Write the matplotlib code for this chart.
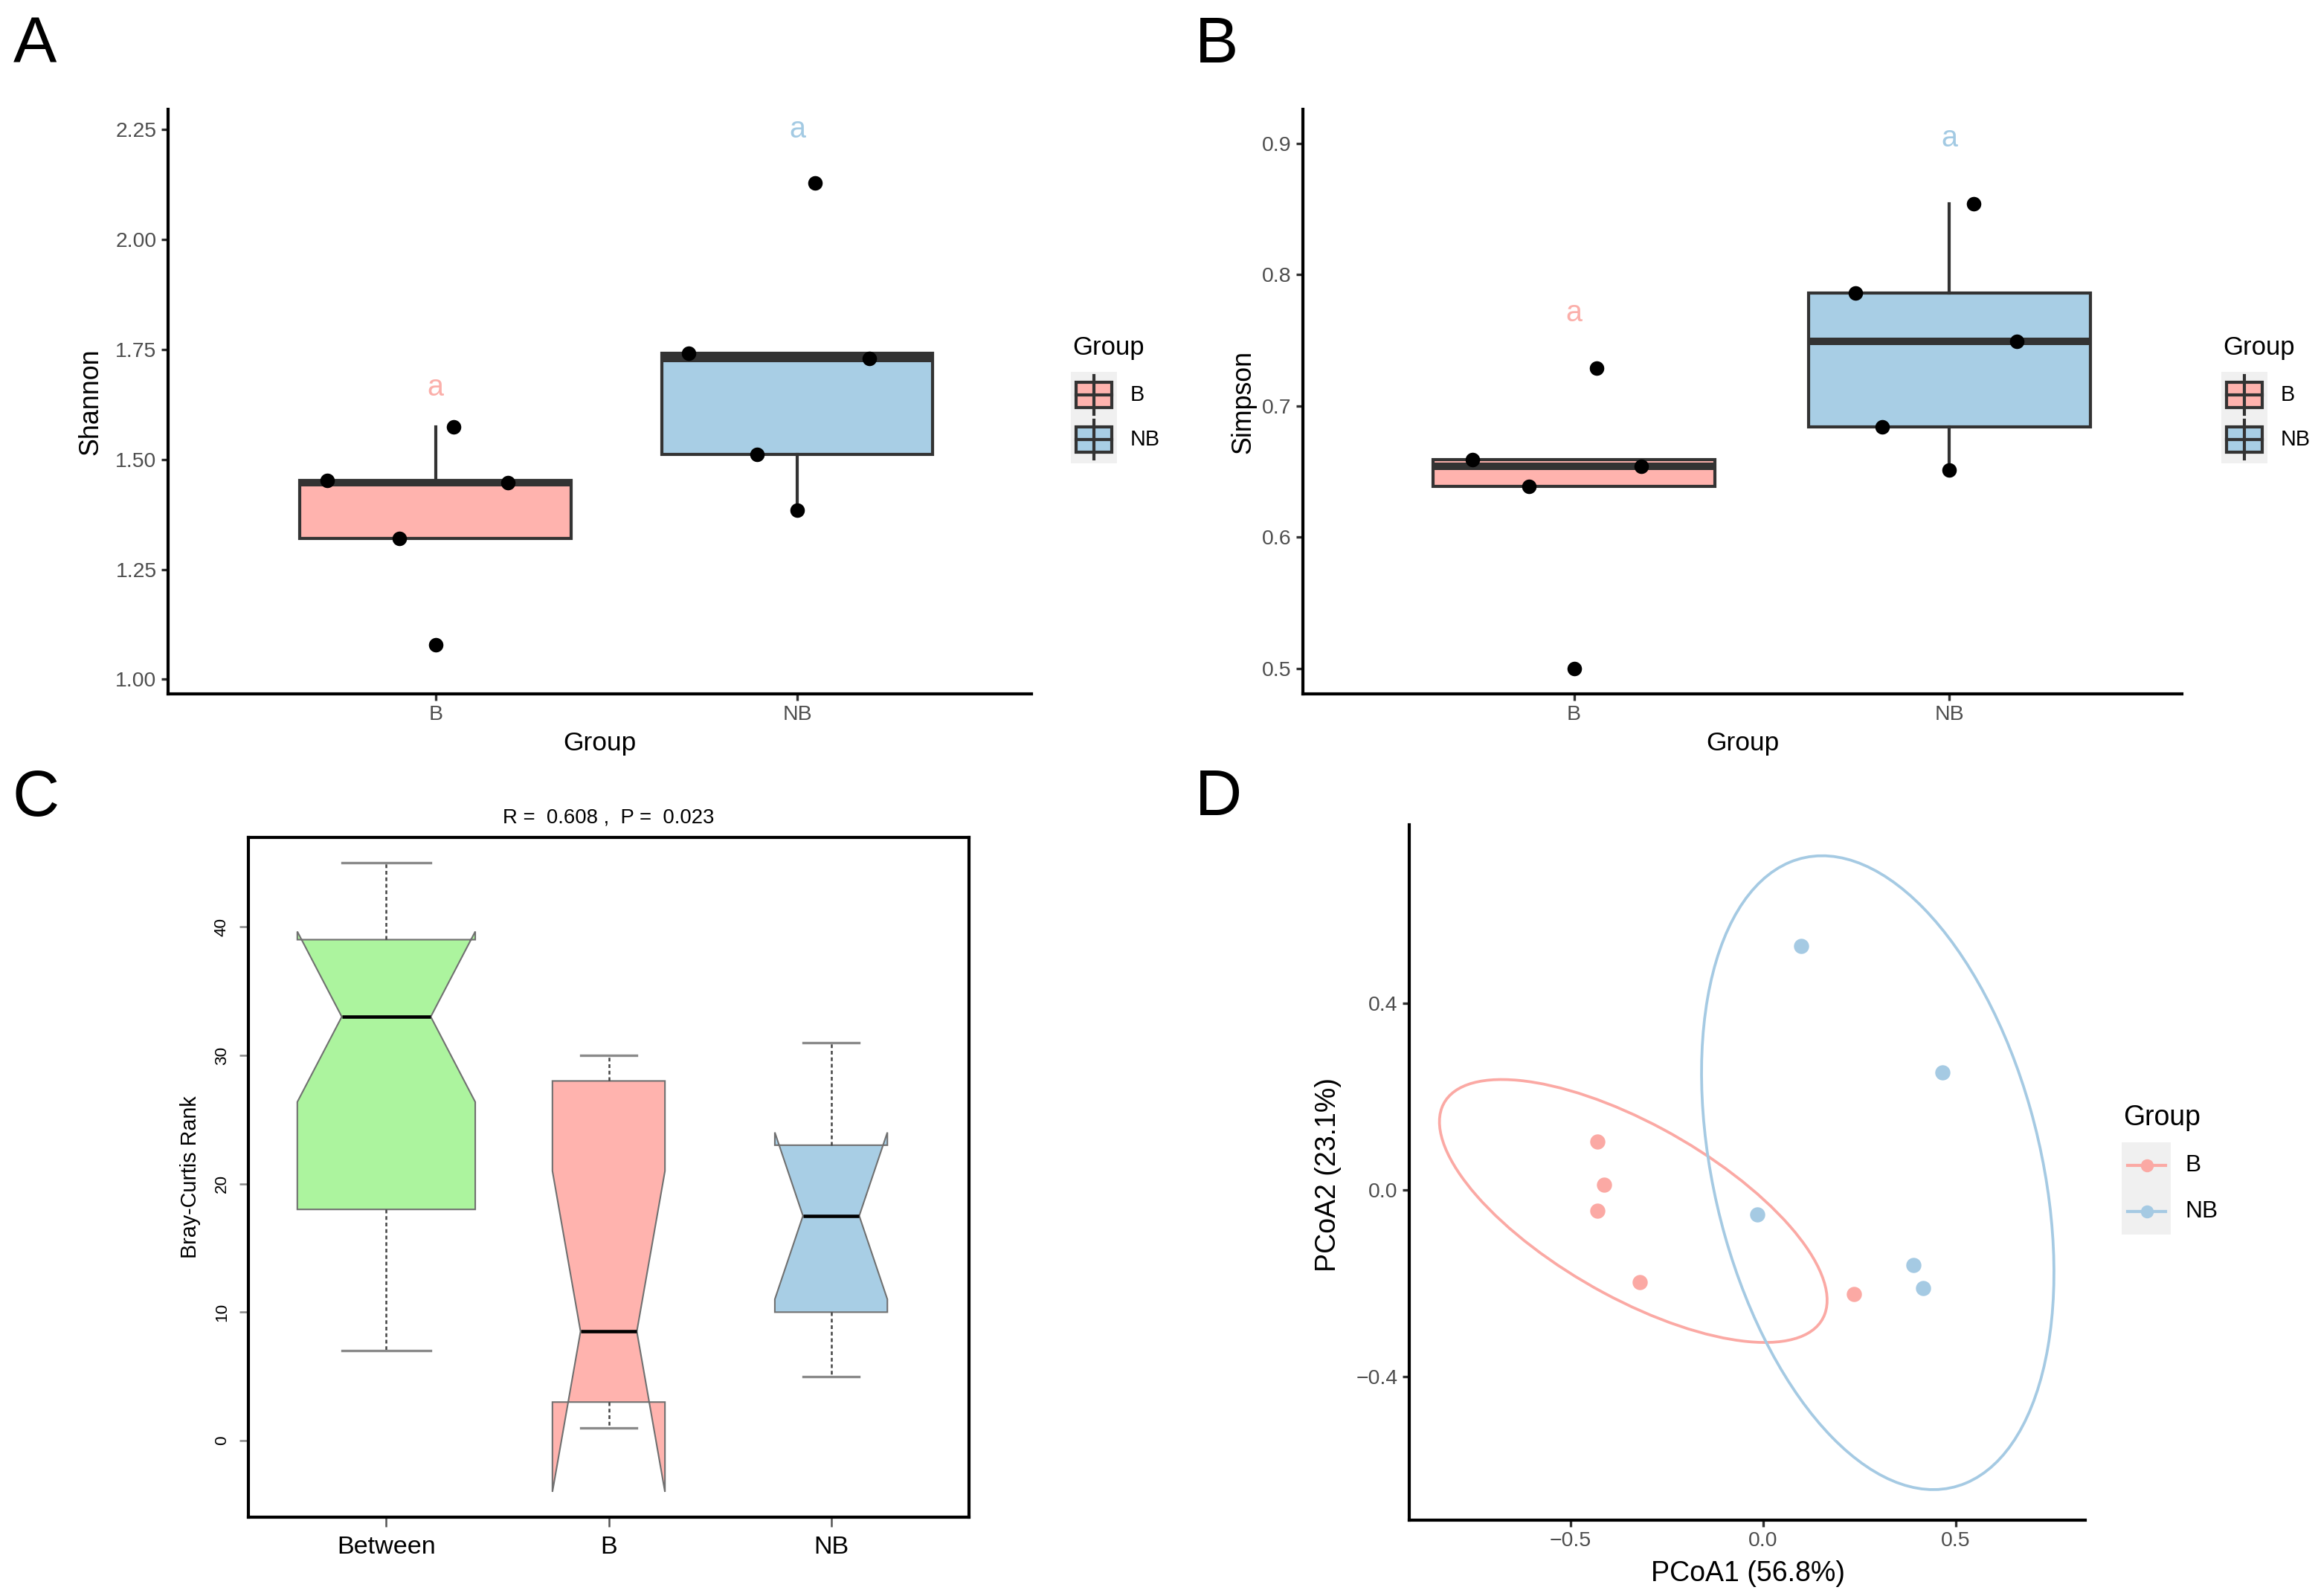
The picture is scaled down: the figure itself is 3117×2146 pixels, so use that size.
import numpy as np
import matplotlib
matplotlib.use('Agg')
import matplotlib.pyplot as plt
from matplotlib import cbook
from matplotlib.patches import Ellipse, Rectangle
from matplotlib.lines import Line2D

plt.rcParams['font.family'] = ['Liberation Sans', 'DejaVu Sans']

W, H, DPI = 3117, 2146, 300

# ---- data ------------------------------------------------------------------
groups = ['B', 'NB']

# panel A: Shannon index, one value per sample, with the jitter offset used
shannon = {
    'B': [1.453, 1.320, 1.078, 1.574, 1.448],
    'NB': [1.741, 1.512, 1.384, 2.128, 1.730],
}
shannon_jitter = {
    'B': [-0.30, -0.10, 0.0, 0.05, 0.20],
    'NB': [-0.30, -0.11, 0.0, 0.05, 0.20],
}
shannon_letter_y = {'B': 1.663, 'NB': 2.25}
shannon_ticks = [1.00, 1.25, 1.50, 1.75, 2.00, 2.25]

# panel B: Simpson index
simpson = {
    'B': [0.659, 0.639, 0.500, 0.729, 0.654],
    'NB': [0.786, 0.684, 0.651, 0.854, 0.749],
}
simpson_jitter = {
    'B': [-0.27, -0.12, 0.0, 0.06, 0.18],
    'NB': [-0.25, -0.18, 0.0, 0.065, 0.18],
}
simpson_letter_y = {'B': 0.771, 'NB': 0.904}
simpson_ticks = [0.5, 0.6, 0.7, 0.8, 0.9]

# panel C: ANOSIM Bray-Curtis rank boxplot summary
rank_groups = ['Between', 'B', 'NB']
rank_lo = [7, 1, 5]
rank_q1 = [18, 3, 10]
rank_med = [33, 8.5, 17.5]
rank_q3 = [39, 28, 23]
rank_hi = [45, 30, 31]
rank_n = [25, 10, 10]
anosim_r = 0.608
anosim_p = 0.023
rank_ticks = [0, 10, 20, 30, 40]

# panel D: PCoA coordinates
pcoa_x = {
    'B': [-0.431, -0.412, -0.431, -0.321, 0.237],
    'NB': [0.100, 0.467, -0.015, 0.390, 0.415],
}
pcoa_y = {
    'B': [0.103, 0.012, -0.045, -0.197, -0.223],
    'NB': [0.522, 0.252, -0.052, -0.161, -0.210],
}
# confidence ellipses: centre, half extent in x / y, and xy shape term
ell_center = {'B': (-0.337, -0.045), 'NB': (0.298, 0.037)}
ell_half = {'B': (0.5035, 0.2815), 'NB': (0.4577, 0.6786)}
ell_xy = {'B': -0.0962, 'NB': -0.0979}
pcoa1_pct = 56.8
pcoa2_pct = 23.1

# ---- styles ----------------------------------------------------------------
box_fill = {'B': '#FFB3AE', 'NB': '#A8CEE5'}
letter_col = {'B': '#FBAFAA', 'NB': '#A3CAE3'}
point_col = {'B': '#FBA9A4', 'NB': '#A5CAE3'}
rank_fill = ['#ACF49E', '#FFB3AE', '#A8CEE5']
legend_bg = '#F0F0F0'


def px_rect(l, t, r, b):
    return [l / W, 1 - b / H, (r - l) / W, (b - t) / H]


def gg_axes(ax):
    for s in ['top', 'right']:
        ax.spines[s].set_visible(False)
    for s in ['left', 'bottom']:
        ax.spines[s].set_linewidth(1.0)
        ax.spines[s].set_color('black')
    ax.tick_params(length=2.2, width=0.8, color='#333333', labelcolor='#4D4D4D',
                   labelsize=6.8, pad=1.5)


def alpha_panel(ax, values, jitter, letter_y, yticks, fmt, xlim, ylim):
    stats = [cbook.boxplot_stats(values[g], whis=1.5)[0] for g in groups]
    bp = ax.bxp(stats, positions=[1, 2], widths=0.75, patch_artist=True,
                showfliers=False, showcaps=False,
                boxprops=dict(edgecolor='#333333', linewidth=1.0),
                medianprops=dict(color='#333333', linewidth=2.4),
                whiskerprops=dict(color='#333333', linewidth=1.0))
    for patch, g in zip(bp['boxes'], groups):
        patch.set_facecolor(box_fill[g])
    for i, g in enumerate(groups):
        xs = i + 1 + np.array(jitter[g])
        ax.scatter(xs, values[g], s=22, color='black', linewidths=0, zorder=4)
        ax.text(i + 1, letter_y[g], 'a', color=letter_col[g], ha='center',
                va='center', fontsize=9.5)
    ax.set_xlim(*xlim)
    ax.set_ylim(*ylim)
    ax.set_xticks([1, 2], groups)
    ax.set_yticks(yticks, [fmt.format(v) for v in yticks])
    gg_axes(ax)


fig = plt.figure(figsize=(W / DPI, H / DPI), dpi=DPI)

# ---- A ---------------------------------------------------------------------
ax_a = fig.add_axes(px_rect(226, 147, 1387, 933))
alpha_panel(ax_a, shannon, shannon_jitter, shannon_letter_y, shannon_ticks,
            '{:.2f}', (0.26, 2.648), (0.967, 2.296))

# ---- B ---------------------------------------------------------------------
ax_b = fig.add_axes(px_rect(1752, 147, 2934, 933))
alpha_panel(ax_b, simpson, simpson_jitter, simpson_letter_y, simpson_ticks,
            '{:.1f}', (0.278, 2.619), (0.4807, 0.926))

# ---- C ---------------------------------------------------------------------
ax_c = fig.add_axes(px_rect(334, 1126, 1303, 2040))
rank_stats = []
for i, name in enumerate(rank_groups):
    notch = 1.58 * (rank_q3[i] - rank_q1[i]) / np.sqrt(rank_n[i])
    rank_stats.append(dict(med=rank_med[i], q1=rank_q1[i], q3=rank_q3[i],
                           whislo=rank_lo[i], whishi=rank_hi[i],
                           cilo=rank_med[i] - notch, cihi=rank_med[i] + notch,
                           fliers=[], label=name))
# varwidth: box width proportional to sqrt(n)
rank_widths = 0.8 * np.sqrt(rank_n) / np.sqrt(max(rank_n))
bp = ax_c.bxp(rank_stats, positions=[1, 2, 3], widths=rank_widths, shownotches=True,
              patch_artist=True, showfliers=False,
              boxprops=dict(edgecolor='#707070', linewidth=0.5),
              medianprops=dict(color='black', linewidth=1.1),
              whiskerprops=dict(color='#444444', linewidth=0.6, linestyle=(0, (2.0, 1.5))),
              capprops=dict(color='#8A8A8A', linewidth=0.8))
for patch, c in zip(bp['boxes'], rank_fill):
    patch.set_facecolor(c)
ax_c.set_xlim(0.38, 3.62)
ax_c.set_ylim(-5.96, 46.96)
ax_c.set_xticks([1, 2, 3], rank_groups)
ax_c.set_yticks(rank_ticks, [str(v) for v in rank_ticks], rotation=90, va='center')
ax_c.tick_params(axis='x', length=3, width=0.6, color='#555555', labelsize=8.2, pad=3)
ax_c.tick_params(axis='y', length=3, width=0.6, color='#888888', labelsize=5.4, pad=3)
for s in ax_c.spines.values():
    s.set_linewidth(1.0)
    s.set_color('black')

# ---- D ---------------------------------------------------------------------
ax_d = fig.add_axes(px_rect(1895, 1109, 2804, 2044))
for g in groups:
    hx, hy = ell_half[g]
    shape = np.array([[hx ** 2, ell_xy[g]], [ell_xy[g], hy ** 2]])
    vals, vecs = np.linalg.eigh(shape)
    angle = np.degrees(np.arctan2(vecs[1, 1], vecs[0, 1]))
    ax_d.add_patch(Ellipse(ell_center[g], 2 * np.sqrt(vals[1]), 2 * np.sqrt(vals[0]),
                           angle=angle, fill=False, edgecolor=point_col[g], linewidth=0.9))
    ax_d.scatter(pcoa_x[g], pcoa_y[g], s=24, color=point_col[g], linewidths=0, zorder=3)
ax_d.set_xlim(-0.919, 0.837)
ax_d.set_ylim(-0.707, 0.782)
ax_d.set_xticks([-0.5, 0.0, 0.5])
ax_d.set_yticks([-0.4, 0.0, 0.4])
gg_axes(ax_d)

# ---- overlay for labels and legends (pixel coordinates) --------------------
ov = fig.add_axes([0, 0, 1, 1])
ov.set_xlim(0, W)
ov.set_ylim(H, 0)
ov.axis('off')
ov.patch.set_alpha(0)

for letter, (x, y) in zip('ABCD', [(47, 62), (1636, 62), (48, 1074), (1638, 1074)]):
    ov.text(x, y, letter, fontsize=21, ha='center', va='center')

ov.text(806, 1000, 'Group', fontsize=8.5, ha='center', va='center')
ov.text(2343, 1000, 'Group', fontsize=8.5, ha='center', va='center')
ov.text(122, 540, 'Shannon', fontsize=8.6, ha='center', va='center', rotation=90)
ov.text(1672, 540, 'Simpson', fontsize=8.6, ha='center', va='center', rotation=90)

ov.text(818, 1100, f'R =  {anosim_r} ,  P =  {anosim_p}', fontsize=6.6,
        ha='center', va='center')
ov.text(256, 1583, 'Bray-Curtis Rank', fontsize=6.9, ha='center', va='center',
        rotation=90)

ov.text(2350, 2116, f'PCoA1 ({pcoa1_pct}%)', fontsize=9, ha='center', va='center')
ov.text(1786, 1580, f'PCoA2 ({pcoa2_pct}%)', fontsize=9, ha='center', va='center',
        rotation=90)


def box_legend(x0):
    ov.text(x0 + 2, 468, 'Group', fontsize=8.3, ha='left', va='center')
    ov.add_patch(Rectangle((x0, 500), 62, 123, facecolor=legend_bg, edgecolor='none'))
    for g, yc in zip(groups, [531, 591]):
        ov.add_line(Line2D([x0 + 31, x0 + 31], [yc - 26, yc + 26], color='#333333', lw=1.0))
        ov.add_patch(Rectangle((x0 + 7, yc - 17), 48, 34, facecolor=box_fill[g],
                               edgecolor='#333333', linewidth=1.0))
        ov.add_line(Line2D([x0 + 7, x0 + 55], [yc, yc], color='#333333', lw=1.0))
        ov.text(x0 + 80, yc, g, fontsize=6.9, ha='left', va='center')


box_legend(1440)
box_legend(2987)

ov.text(2855, 1503, 'Group', fontsize=9, ha='left', va='center')
ov.add_patch(Rectangle((2853, 1536), 66, 124, facecolor=legend_bg, edgecolor='none'))
for g, yc in zip(groups, [1567, 1629]):
    ov.add_line(Line2D([2861, 2912], [yc, yc], color=point_col[g], lw=1.0))
    ov.plot([2887], [yc], 'o', color=point_col[g], markersize=4.2, markeredgewidth=0)
    ov.text(2938, yc, g, fontsize=7.6, ha='left', va='center')

fig.savefig('out.png', dpi=DPI)
